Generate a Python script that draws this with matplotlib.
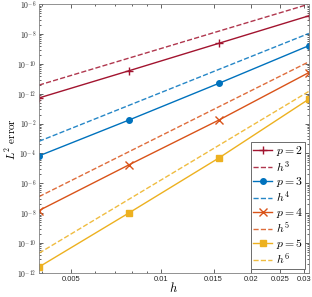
import matplotlib
matplotlib.use("Agg")
import matplotlib.pyplot as plt
import numpy as np
from matplotlib.ticker import FixedLocator, FixedFormatter, LogLocator, NullFormatter

plt.rcParams['mathtext.fontset'] = 'cm'
plt.rcParams['font.family'] = ['Liberation Sans', 'DejaVu Sans']

# mesh sizes
h = [1/256, 1/128, 1/64, 1/32]

# log10 of the errors
err_p2 = [-6.14, -5.23, -4.31, -3.39]
err_p3 = [-8.08, -6.88, -5.65, -4.39]
err_p4 = [-9.91, -8.38, -6.88, -5.29]
err_p5 = [-11.80, -9.99, -8.15, -6.18]

# reference slopes (log10 value at h = 1/32 and order)
ref_top = [-3.00, -3.98, -4.93, -5.92]
ref_order = [3, 4, 5, 6]

colors = ['#A2142F', '#0072BD', '#D95319', '#EDB120']
markers = ['+', 'o', 'x', 's']
labels_p = ['$p = 2$', '$p = 3$', '$p = 4$', '$p = 5$']
labels_h = ['$h^3$', '$h^4$', '$h^5$', '$h^6$']

# y tick labels as they appear (bottom to top)
ytick_labels = ['$10^{-12}$', '$10^{-10}$', '$10^{-8}$', '$10^{-6}$', '$10^{-4}$',
                '$10^{-2}$', '$10^{-12}$', '$10^{-10}$', '$10^{-8}$', '$10^{-6}$']
xticks = [0.005, 0.01, 0.015, 0.02, 0.025, 0.03]
xtick_labels = ['0.005', '0.01', '0.015', '0.02', '0.025', '0.03']

fig = plt.figure(figsize=(3.12, 2.97), dpi=100)
ax = fig.add_axes([0.125, 0.081, 0.865, 0.905])

hh = np.array(h)
for i, err in enumerate([err_p2, err_p3, err_p4, err_p5]):
    ms = 6 if markers[i] in '+x' else 4
    ax.loglog(h, 10.0 ** np.array(err), '-', color=colors[i], marker=markers[i],
              markersize=ms, lw=1.0, mew=1.0, label=labels_p[i])
    ref = 10.0 ** ref_top[i] * (hh / h[-1]) ** ref_order[i]
    ax.loglog(h, ref, '--', color=colors[i], lw=1.0, alpha=0.85, label=labels_h[i])

ax.set_xlim(1/256, 1/32)
ax.set_ylim(1e-12, 1e-3)

ax.xaxis.set_major_locator(FixedLocator(xticks))
ax.xaxis.set_major_formatter(FixedFormatter(xtick_labels))
ax.xaxis.set_minor_locator(LogLocator(base=10, subs=np.arange(2, 10)))
ax.xaxis.set_minor_formatter(NullFormatter())

ax.yaxis.set_major_locator(FixedLocator([10.0 ** k for k in range(-12, -2)]))
ax.yaxis.set_major_formatter(FixedFormatter(ytick_labels))
ax.yaxis.set_minor_locator(LogLocator(base=10, subs=np.arange(2, 10)))
ax.yaxis.set_minor_formatter(NullFormatter())

ax.tick_params(which='both', direction='in', top=True, right=True,
               labelsize=5.5, colors='#262626', width=0.5)
ax.tick_params(which='major', length=3)
ax.tick_params(which='minor', length=1.5)
ax.tick_params(axis='x', pad=2)
ax.tick_params(axis='y', pad=2)
for s in ax.spines.values():
    s.set_color('#808080')
    s.set_linewidth(0.6)

ax.set_xlabel('$h$', fontsize=9, labelpad=-1)
ax.set_ylabel(r'$L^2\ \mathrm{error}$', fontsize=8, labelpad=-1)

leg = ax.legend(loc='lower right', fontsize=8.5, handlelength=1.6, handletextpad=0.3,
                labelspacing=0.08, borderpad=0.2, borderaxespad=0.3,
                fancybox=False, edgecolor='#555555', framealpha=1)
leg.get_frame().set_linewidth(0.6)

fig.savefig('out.png', dpi=100)
